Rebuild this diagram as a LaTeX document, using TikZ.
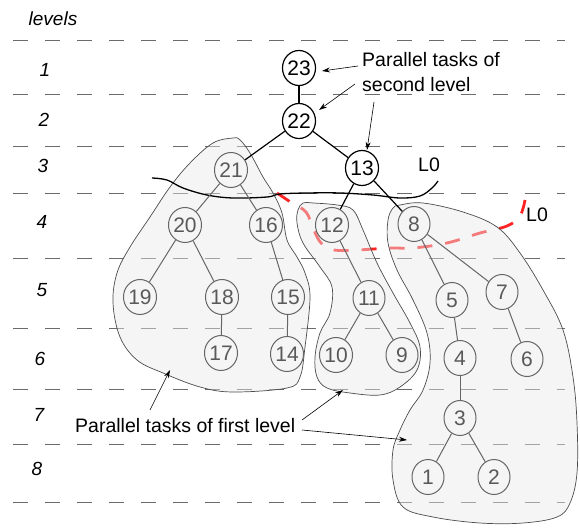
\documentclass[tikz,border=0pt]{standalone}
\usepackage{fontspec}
\setmainfont{Liberation Sans}
\usetikzlibrary{shapes.geometric,arrows.meta}
\definecolor{lzred}{RGB}{255,35,35}
\tikzset{
  levelline/.style={black!58, line width=0.9pt, dash pattern=on 15pt off 17pt},
  lvl/.style={font=\fontsize{19}{22}\selectfont\itshape, inner sep=0pt},
  txt/.style={font=\fontsize{19.5}{23}\selectfont, inner sep=0pt},
  topnode/.style={ellipse, draw=black, line width=1.2pt, fill=white, minimum width=32pt, minimum height=35pt, inner sep=0pt, font=\fontsize{21}{24}\selectfont},
  subnode/.style={ellipse, draw=black!60, line width=1pt, text=black!65, minimum width=32pt, minimum height=35pt, inner sep=0pt, font=\fontsize{21}{24}\selectfont},
  topedge/.style={black, line width=1.2pt},
  subedge/.style={black!60, line width=1pt},
  blob/.style={draw=black!70, line width=0.7pt, fill=black!9, fill opacity=0.45},
  callout/.style={-{Stealth[length=8pt,width=5pt]}, line width=0.6pt, black},
  lzero/.style={black, line width=1.3pt},
  redline/.style={lzred, line width=2.8pt, dash pattern=on 15pt off 13pt}
}
\begin{document}
\begin{tikzpicture}[x=1pt,y=-1pt]
\useasboundingbox (0,0) rectangle (580,529);
% level lines
\foreach \y in {40,94,146,193,258,328,389,444,502}
  \draw[levelline] (13,\y) -- (565,\y);
% level labels
\node[lvl] (lv) at (53,19) {levels};
\node[lvl] (l1) at (45,70) {1};
\node[lvl] (l2) at (44,120) {2};
\node[lvl] (l3) at (43,166) {3};
\node[lvl] (l4) at (42,222) {4};
\node[lvl] (l5) at (42,290) {5};
\node[lvl] (l6) at (40,359) {6};
\node[lvl] (l7) at (39,415) {7};
\node[lvl] (l8) at (37,469) {8};
% red dashed L0
\draw[redline] plot[smooth, tension=0.6] coordinates {(277,193) (292,203) (306,212) (313,228) (321,243) (334,250) (357,250) (390,248) (413,248) (447,243) (480,233) (507,226) (520,216) (525,200)};
% blobs
\draw[blob] plot[smooth cycle, tension=0.6] coordinates {(233,138) (213,143) (190,163) (170,187) (150,217) (130,247) (117,273) (113,303) (120,337) (137,360) (163,373) (200,387) (233,392) (287,388) (300,377) (305,347) (310,297) (305,273) (297,257) (287,240) (282,213) (273,193) (263,177) (250,153) (240,140)};
\draw[blob] plot[smooth cycle, tension=0.6] coordinates {(303,203) (298,210) (297,223) (303,243) (320,267) (332,287) (330,313) (320,333) (315,357) (317,377) (327,388) (350,393) (380,395) (400,387) (417,370) (420,347) (410,323) (393,293) (377,263) (363,230) (353,210) (337,205) (313,203)};
\draw[blob] plot[smooth cycle, tension=0.6] coordinates {(400,205) (423,203) (463,212) (497,227) (520,253) (543,290) (563,330) (573,377) (577,423) (577,473) (570,503) (557,517) (523,523) (480,523) (433,517) (403,507) (393,480) (393,450) (400,430) (410,410) (423,390) (430,363) (427,333) (413,300) (397,270) (388,243) (388,220) (393,208)};
% black L0
\draw[lzero] plot[smooth, tension=0.6] coordinates {(152,178) (167,180) (183,188) (207,195) (233,198) (267,197) (280,194) (307,193) (340,193) (373,195) (400,198) (420,196) (432,188) (438,181)};
\node[txt] (L0a) at (429,165) {L0};
\node[txt] (L0b) at (537,215) {L0};
% nodes
\node[topnode] (n23) at (299,68) {23};
\node[topnode] (n22) at (299,121) {22};
\node[topnode] (n13) at (362,168) {13};
\node[subnode] (n21) at (231,170) {21};
\node[subnode] (n20) at (185,225) {20};
\node[subnode] (n16) at (266,225) {16};
\node[subnode] (n19) at (140,297) {19};
\node[subnode] (n18) at (222,297) {18};
\node[subnode] (n15) at (288,297) {15};
\node[subnode] (n17) at (221,353) {17};
\node[subnode] (n14) at (287,354) {14};
\node[subnode] (n12) at (332,225) {12};
\node[subnode] (n11) at (369,298) {11};
\node[subnode] (n10) at (336,355) {10};
\node[subnode] (n9) at (402,355) {9};
\node[subnode] (n8) at (414,224) {8};
\node[subnode] (n5) at (452,300) {5};
\node[subnode] (n7) at (502,292) {7};
\node[subnode] (n4) at (460,358) {4};
\node[subnode] (n6) at (527,359) {6};
\node[subnode] (n3) at (460,418) {3};
\node[subnode] (n1) at (428,477) {1};
\node[subnode] (n2) at (494,477) {2};
% edges
\draw[topedge] (n23) -- (n22);
\draw[topedge] (n22) -- (n21);
\draw[topedge] (n22) -- (n13);
\draw[topedge] (n13) -- (n12);
\draw[topedge] (n13) -- (n8);
\draw[subedge] (n21) -- (n20);
\draw[subedge] (n21) -- (n16);
\draw[subedge] (n20) -- (n19);
\draw[subedge] (n20) -- (n18);
\draw[subedge] (n18) -- (n17);
\draw[subedge] (n16) -- (n15);
\draw[subedge] (n15) -- (n14);
\draw[subedge] (n12) -- (n11);
\draw[subedge] (n11) -- (n10);
\draw[subedge] (n11) -- (n9);
\draw[subedge] (n8) -- (n5);
\draw[subedge] (n8) -- (n7);
\draw[subedge] (n5) -- (n4);
\draw[subedge] (n4) -- (n3);
\draw[subedge] (n3) -- (n1);
\draw[subedge] (n3) -- (n2);
\draw[subedge] (n7) -- (n6);
% callout texts
\node[txt, anchor=base west] (t2a) at (362,67) {Parallel tasks of};
\node[txt, anchor=base west] (t2b) at (362,92) {second level};
\node[txt, anchor=base west] (t1) at (75,432) {Parallel tasks of first level};
% callout arrows
\coordinate (a1s) at (358,66);
\coordinate (a1e) at (322,71);
\coordinate (a2s) at (355,84);
\coordinate (a2e) at (319,110);
\coordinate (a3s) at (374,102);
\coordinate (a3e) at (367,150);
\coordinate (b1s) at (150,410);
\coordinate (b1e) at (170,370);
\coordinate (b2s) at (302,420);
\coordinate (b2e) at (343,390);
\coordinate (b3s) at (302,430);
\coordinate (b3e) at (407,440);
\draw[callout] (a1s) -- (a1e);
\draw[callout] (a2s) -- (a2e);
\draw[callout] (a3s) -- (a3e);
\draw[callout] (b1s) -- (b1e);
\draw[callout] (b2s) -- (b2e);
\draw[callout] (b3s) -- (b3e);
\end{tikzpicture}
\end{document}
